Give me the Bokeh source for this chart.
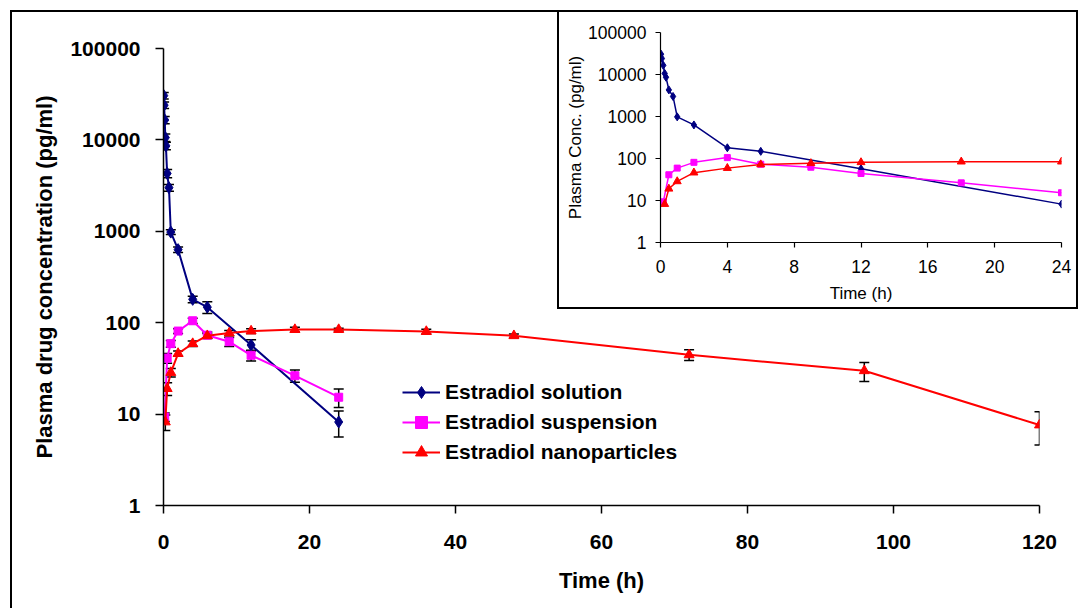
from bokeh.plotting import figure
from bokeh.models import (Whisker, TeeHead, ColumnDataSource, Legend, LegendItem,
                          FixedTicker, NumeralTickFormatter, Div)
from bokeh.layouts import column
from bokeh.embed import file_html
from bokeh.resources import INLINE

# ---------------- data ----------------
sol_t = [0.033, 0.083, 0.167, 0.25, 0.33, 0.5, 0.75, 1, 2, 4, 6, 12, 24]
sol_c = [30500, 24000, 16500, 10600, 8600, 4300, 3000, 980, 630, 180, 148, 57, 8.2]
sol_sd = [2500, 2000, 1500, 1000, 800, 450, 250, 60, 45, 15, 22, 8, 2.6]

sus_t = [0.167, 0.5, 1, 2, 4, 6, 9, 12, 18, 24]
sus_c = [9.3, 41, 59, 81, 105, 73, 62, 44, 26.3, 15.3]
sus_sd = [1.0, 5, 5, 5, 7, 6, 7, 6, 4, 3.5]

nano_t = [0.25, 0.5, 1, 2, 4, 6, 9, 12, 18, 24, 36, 48, 72, 96, 120]
nano_c = [8.2, 19, 28.5, 46, 59, 72, 77, 81, 84, 84, 80, 72, 44.5, 29.8, 7.6]
nano_sd = [1.6, 3, 3, 3, 4, 4, 5, 5, 5, 3, 5, 3, 6, 7, 3]

series_names = ["Estradiol solution", "Estradiol suspension", "Estradiol nanoparticles"]
y_ticks = [1, 10, 100, 1000, 10000, 100000]
x_ticks_main = [0, 20, 40, 60, 80, 100, 120]
x_ticks_inset = [0, 4, 8, 12, 16, 20, 24]

FONT = "Liberation Sans"
NAVY, MAG, RED = "#000080", "#FF00FF", "#FF0000"


def src(t, c, sd):
    return ColumnDataSource(dict(t=t, c=c,
                                 up=[a + b for a, b in zip(c, sd)],
                                 lo=[a - b for a, b in zip(c, sd)]))


def style_axes(fig, tick_size, label_size, bold, tick_out, xs_stand, ys_stand, xl_stand, yl_stand, lw):
    fs = "bold" if bold else "normal"
    for ax in (fig.xaxis, fig.yaxis):
        ax.major_label_text_font = FONT
        ax.major_label_text_font_size = tick_size
        ax.major_label_text_font_style = fs
        ax.major_label_text_color = "black"
        ax.axis_label_text_font = FONT
        ax.axis_label_text_font_size = label_size
        ax.axis_label_text_font_style = fs
        ax.axis_label_text_color = "black"
        ax.axis_line_color = "black"
        ax.axis_line_width = lw
        ax.major_tick_line_color = "black"
        ax.major_tick_line_width = lw
        ax.major_tick_out = tick_out
        ax.major_tick_in = 0
        ax.minor_tick_line_color = None
    fig.xaxis.major_label_standoff = xs_stand
    fig.yaxis.major_label_standoff = ys_stand
    fig.xaxis.axis_label_standoff = xl_stand
    fig.yaxis.axis_label_standoff = yl_stand
    fig.yaxis.ticker = FixedTicker(ticks=y_ticks)
    fig.yaxis.formatter = NumeralTickFormatter(format="0")
    fig.xgrid.visible = False
    fig.ygrid.visible = False
    fig.outline_line_color = None


# ---------------- main figure ----------------
p = figure(width=1079, height=608, x_range=(0, 120), y_range=(1, 100000),
           y_axis_type="log", output_backend="svg", toolbar_location=None,
           min_border_left=163, min_border_right=40, min_border_top=48,
           min_border_bottom=103, background_fill_color="white",
           border_fill_color="white")
p.xaxis.axis_label = "Time (h)"
p.yaxis.axis_label = "Plasma drug concentration (pg/ml)"
style_axes(p, "21px", "22px", True, 8, 21, 15, 16, 10, 1.5)
p.xaxis.ticker = FixedTicker(ticks=x_ticks_main)

sources = [src(sol_t, sol_c, sol_sd), src(sus_t, sus_c, sus_sd), src(nano_t, nano_c, nano_sd)]
colors = [NAVY, MAG, RED]
markers = ["diamond", "square", "triangle"]
msizes = [12, 8, 10]

for s in sources:
    p.add_layout(Whisker(source=s, base="t", upper="up", lower="lo",
                         line_color="black", line_width=1.5, level="underlay",
                         upper_head=TeeHead(size=10, line_color="black", line_width=1.5),
                         lower_head=TeeHead(size=10, line_color="black", line_width=1.5)))

items = []
for s, col, mk, ms, name in zip(sources, colors, markers, msizes, series_names):
    lr = p.line("t", "c", source=s, line_color=col, line_width=2)
    sr = p.scatter("t", "c", source=s, marker=mk, size=ms, fill_color=col, line_color=col)
    items.append(LegendItem(label=name, renderers=[lr, sr]))

legend = Legend(items=items, location=(239, 38), glyph_width=38, glyph_height=30,
                label_height=30, spacing=0, padding=0, margin=0, label_standoff=5,
                border_line_color=None, background_fill_alpha=0,
                label_text_font=FONT, label_text_font_style="bold",
                label_text_font_size="21px", label_text_color="black")
p.add_layout(legend)

# ---------------- inset ----------------
q = figure(width=520, height=297, x_range=(0, 24), y_range=(1, 100000),
           y_axis_type="log", output_backend="svg", toolbar_location=None,
           min_border_left=102, min_border_right=17, min_border_top=21,
           min_border_bottom=66, background_fill_color="white",
           border_fill_color="white")
q.xaxis.axis_label = "Time (h)"
q.yaxis.axis_label = "Plasma Conc. (pg/ml)"
style_axes(q, "17.5px", "17px", False, 5, 12, 9, 8, 0, 1.2)
q.xaxis.ticker = FixedTicker(ticks=x_ticks_inset)

for s, col, mk, ms in zip(sources, colors, markers, [8, 6, 8]):
    q.line("t", "c", source=s, line_color=col, line_width=1.5)
    q.scatter("t", "c", source=s, marker=mk, size=ms, fill_color=col, line_color=col)

# ---------------- frames / placement ----------------
p.styles = {"position": "absolute", "left": "0px", "top": "0px"}
inset_wrap = column(q, width=520, height=297,
                    styles={"position": "absolute", "left": "558px", "top": "11px"})
outer = Div(text="", width=1067, height=598, margin=0,
            styles={"position": "absolute", "left": "10px", "top": "10px",
                    "border-left": "2px solid black", "border-top": "2px solid black",
                    "pointer-events": "none", "box-sizing": "border-box"})
inset_box = Div(text="", width=521, height=299, margin=0,
                styles={"position": "absolute", "left": "557px", "top": "10px",
                        "border": "2px solid black", "pointer-events": "none",
                        "box-sizing": "border-box"})

root = column(p, inset_wrap, outer, inset_box, width=1079, height=608,
              styles={"position": "relative"})

with open("out.html", "w") as f:
    f.write(file_html(root, INLINE))
